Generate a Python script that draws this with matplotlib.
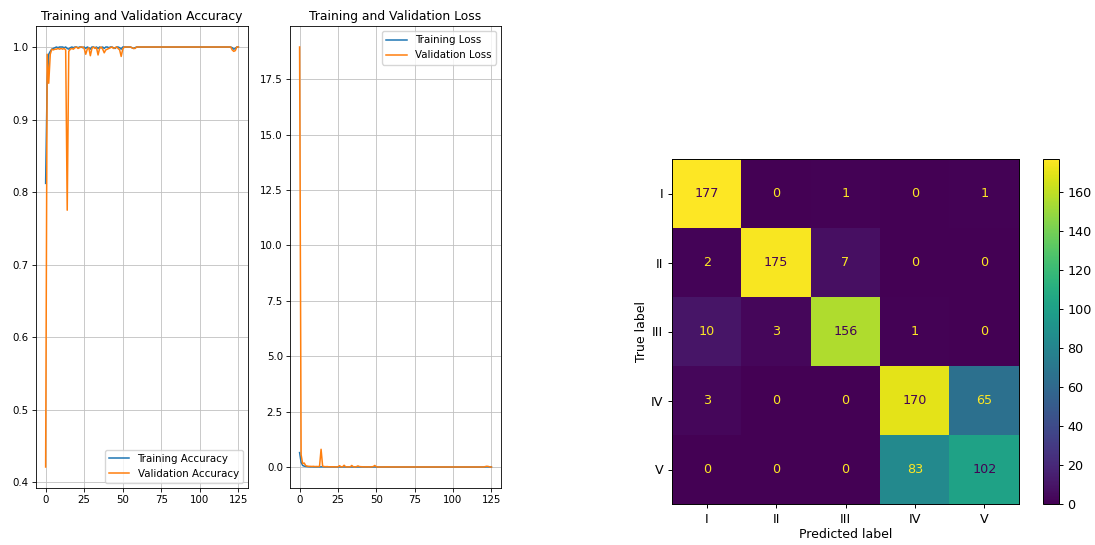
import matplotlib
matplotlib.use("Agg")
import matplotlib.pyplot as plt
import numpy as np

epochs = list(range(126))

train_acc = [
    0.812, 0.952, 0.990, 0.994, 0.997, 0.998, 0.999, 1.000, 0.999, 1.000,
    1.000, 1.000, 0.999, 1.000, 0.998, 0.997, 0.999, 1.000, 0.999, 1.000,
    1.000, 0.999, 1.000, 1.000, 0.999, 1.000, 0.998, 1.000, 0.999, 0.997,
    1.000, 1.000, 0.999, 1.000, 0.998, 1.000, 0.999, 1.000, 0.998, 1.000,
    1.000, 0.999, 1.000, 1.000, 0.999, 0.998, 1.000, 1.000, 0.999, 0.997,
    1.000, 1.000, 1.000, 1.000, 1.000, 1.000, 0.999, 0.998, 0.999, 1.000,
    1.000, 1.000, 1.000, 1.000, 1.000, 1.000, 1.000, 1.000, 1.000, 1.000,
    1.000, 1.000, 1.000, 1.000, 1.000, 1.000, 1.000, 1.000, 1.000, 1.000,
    1.000, 1.000, 1.000, 1.000, 1.000, 1.000, 1.000, 1.000, 1.000, 1.000,
    1.000, 1.000, 1.000, 1.000, 1.000, 1.000, 1.000, 1.000, 1.000, 1.000,
    1.000, 1.000, 1.000, 1.000, 1.000, 1.000, 1.000, 1.000, 1.000, 1.000,
    1.000, 1.000, 1.000, 1.000, 1.000, 1.000, 1.000, 1.000, 1.000, 1.000,
    1.000, 0.999, 0.997, 0.998, 1.000, 1.000,
]

val_acc = [
    0.421, 0.990, 0.950, 0.990, 0.997, 0.996, 0.997, 0.997, 0.998, 0.997,
    0.998, 0.997, 0.998, 0.996, 0.775, 0.994, 0.997, 0.998, 0.997, 0.999,
    1.000, 0.998, 0.999, 1.000, 1.000, 0.998, 0.990, 0.997, 0.999, 0.988,
    0.998, 1.000, 0.998, 0.999, 0.989, 0.998, 1.000, 0.997, 0.992, 0.996,
    0.997, 0.998, 0.999, 1.000, 0.998, 0.999, 1.000, 0.998, 0.996, 0.987,
    0.997, 1.000, 1.000, 1.000, 1.000, 1.000, 0.999, 0.998, 0.998, 1.000,
    1.000, 1.000, 1.000, 1.000, 1.000, 1.000, 1.000, 1.000, 1.000, 1.000,
    1.000, 1.000, 1.000, 1.000, 1.000, 1.000, 1.000, 1.000, 1.000, 1.000,
    1.000, 1.000, 1.000, 1.000, 1.000, 1.000, 1.000, 1.000, 1.000, 1.000,
    1.000, 1.000, 1.000, 1.000, 1.000, 1.000, 1.000, 1.000, 1.000, 1.000,
    1.000, 1.000, 1.000, 1.000, 1.000, 1.000, 1.000, 1.000, 1.000, 1.000,
    1.000, 1.000, 1.000, 1.000, 1.000, 1.000, 1.000, 1.000, 1.000, 1.000,
    1.000, 0.996, 0.994, 0.995, 1.000, 1.000,
]

train_loss = [
    0.650, 0.210, 0.070, 0.040, 0.025, 0.018, 0.012, 0.008, 0.009, 0.006,
    0.005, 0.004, 0.006, 0.004, 0.008, 0.010, 0.005, 0.004, 0.005, 0.003,
    0.003, 0.004, 0.003, 0.002, 0.003, 0.002, 0.006, 0.003, 0.003, 0.008,
    0.002, 0.002, 0.003, 0.002, 0.005, 0.002, 0.003, 0.002, 0.004, 0.002,
    0.002, 0.003, 0.002, 0.001, 0.002, 0.004, 0.001, 0.001, 0.002, 0.006,
    0.002, 0.001, 0.001, 0.001, 0.001, 0.001, 0.002, 0.003, 0.002, 0.001,
    0.001, 0.001, 0.001, 0.001, 0.001, 0.001, 0.001, 0.001, 0.001, 0.001,
    0.001, 0.001, 0.001, 0.001, 0.001, 0.001, 0.001, 0.001, 0.001, 0.001,
    0.001, 0.001, 0.001, 0.001, 0.001, 0.001, 0.001, 0.001, 0.001, 0.001,
    0.001, 0.001, 0.001, 0.001, 0.001, 0.001, 0.001, 0.001, 0.001, 0.001,
    0.001, 0.001, 0.001, 0.001, 0.001, 0.001, 0.001, 0.001, 0.001, 0.001,
    0.001, 0.001, 0.001, 0.001, 0.001, 0.001, 0.001, 0.001, 0.001, 0.001,
    0.001, 0.003, 0.008, 0.004, 0.001, 0.001,
]

val_loss = [
    18.95, 0.550, 0.150, 0.180, 0.060, 0.040, 0.030, 0.030, 0.025, 0.030,
    0.020, 0.025, 0.020, 0.030, 0.800, 0.040, 0.020, 0.015, 0.020, 0.010,
    0.008, 0.012, 0.010, 0.006, 0.005, 0.010, 0.060, 0.012, 0.006, 0.080,
    0.010, 0.004, 0.010, 0.006, 0.070, 0.010, 0.003, 0.015, 0.050, 0.020,
    0.015, 0.010, 0.006, 0.003, 0.010, 0.005, 0.002, 0.010, 0.020, 0.070,
    0.012, 0.002, 0.002, 0.002, 0.002, 0.002, 0.004, 0.008, 0.007, 0.002,
    0.002, 0.002, 0.002, 0.002, 0.002, 0.002, 0.002, 0.002, 0.002, 0.002,
    0.002, 0.002, 0.002, 0.002, 0.002, 0.002, 0.002, 0.002, 0.002, 0.002,
    0.002, 0.002, 0.002, 0.002, 0.002, 0.002, 0.002, 0.002, 0.002, 0.002,
    0.002, 0.002, 0.002, 0.002, 0.002, 0.002, 0.002, 0.002, 0.002, 0.002,
    0.002, 0.002, 0.002, 0.002, 0.002, 0.002, 0.002, 0.002, 0.002, 0.002,
    0.002, 0.002, 0.002, 0.002, 0.002, 0.002, 0.002, 0.002, 0.002, 0.002,
    0.002, 0.020, 0.035, 0.025, 0.002, 0.002,
]

class_names = ["I", "II", "III", "IV", "V"]
conf_mat = np.array([
    [177, 0, 1, 0, 1],
    [2, 175, 7, 0, 0],
    [10, 3, 156, 1, 0],
    [3, 0, 0, 170, 65],
    [0, 0, 0, 83, 102],
])

W, H = 1095, 545
fig = plt.figure(figsize=(W / 100, H / 100), dpi=100)


def box(x0, y0, x1, y1):
    # pixel box (top-left origin) -> figure fraction
    return [x0 / W, 1 - y1 / H, (x1 - x0) / W, (y1 - y0) / H]


small = 7.4
lw = 1.1

# accuracy
ax1 = fig.add_axes(box(36, 26, 248, 488))
ax1.plot(epochs, train_acc, label="Training Accuracy", lw=lw)
ax1.plot(epochs, val_acc, label="Validation Accuracy", lw=lw)
ax1.set_title("Training and Validation Accuracy", fontsize=8.9, pad=4)
ax1.legend(loc="lower right", fontsize=small)
ax1.grid(True, linewidth=0.6, color="#c0c0c0")
ax1.tick_params(labelsize=small, width=0.6, length=2.6, pad=2.5)
ax1.set_xticks([0, 25, 50, 75, 100, 125])
for s in ax1.spines.values():
    s.set_linewidth(0.6)

# loss
ax2 = fig.add_axes(box(290, 26, 501, 488))
ax2.plot(epochs, train_loss, label="Training Loss", lw=lw)
ax2.plot(epochs, val_loss, label="Validation Loss", lw=lw)
ax2.set_title("Training and Validation Loss", fontsize=8.9, pad=4)
ax2.legend(loc="upper right", fontsize=small)
ax2.grid(True, linewidth=0.6, color="#c0c0c0")
ax2.tick_params(labelsize=small, width=0.6, length=2.6, pad=2.5)
ax2.set_xticks([0, 25, 50, 75, 100, 125])
for s in ax2.spines.values():
    s.set_linewidth(0.6)

# confusion matrix
cmap = plt.get_cmap("viridis")
ax3 = fig.add_axes(box(672, 159, 1019, 504))
im = ax3.imshow(conf_mat, interpolation="nearest", cmap=cmap, aspect="auto")
thresh = (conf_mat.max() + conf_mat.min()) / 2.0
for i in range(conf_mat.shape[0]):
    for j in range(conf_mat.shape[1]):
        color = cmap(0) if conf_mat[i, j] > thresh else cmap(1.0)
        ax3.text(j, i, str(conf_mat[i, j]), ha="center", va="center",
                 color=color, fontsize=9.2)
ax3.set_xticks(range(5))
ax3.set_yticks(range(5))
ax3.set_xticklabels(class_names)
ax3.set_yticklabels(class_names)
ax3.set_xlabel("Predicted label", fontsize=9, labelpad=2)
ax3.set_ylabel("True label", fontsize=9, labelpad=2)
ax3.tick_params(labelsize=9.2, width=0.7, length=3.2, pad=3)
for s in ax3.spines.values():
    s.set_linewidth(0.7)

cax = fig.add_axes(box(1043, 159, 1059, 504))
cb = fig.colorbar(im, cax=cax)
cb.set_ticks([0, 20, 40, 60, 80, 100, 120, 140, 160])
cb.ax.tick_params(labelsize=9.2, width=0.7, length=3.2, pad=3)
cb.outline.set_linewidth(0.7)

fig.savefig("out.png", dpi=100)
